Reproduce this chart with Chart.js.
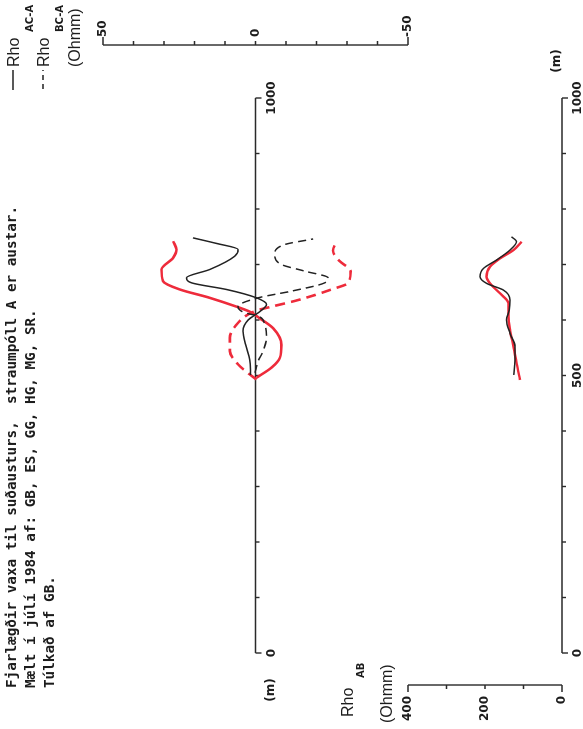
<!DOCTYPE html>
<html>
<head>
<meta charset="utf-8">
<script src="https://cdn.jsdelivr.net/npm/chart.js@4"></script>
<style>
html, body { margin: 0; padding: 0; background: #fff; overflow: hidden; }
/* the sheet is drawn upright and then turned a quarter turn, like the plot */
#sheet { position: absolute; left: 0; top: 0; width: 729px; height: 583px;
         transform-origin: 0 0; transform: translateY(729px) rotate(-90deg); }
</style>
</head>
<body>
<div id="sheet"><canvas id="c" width="729" height="583"></canvas></div>
<script>
// distance along the profile (m) and apparent resistivity

// Rho AC-A (Ohmm), measured (black) and interpreted (red)
const acMeasDist = [501, 528, 555, 580, 600, 615, 628, 640, 655, 667, 676, 691, 715, 727, 738, 748];
const acMeasRho  = [1.6, 1.9, 3.2, 4.1, 2.4, -1.4, -3.6, -0.3, 9.5, 21.0, 22.6, 15.0, 6.8, 5.7, 12.8, 20.5];
const acModDist  = [496, 514, 532, 555, 585, 603, 615, 624, 640, 655, 670, 691, 712, 727, 742];
const acModRho   = [-0.3, -5.2, -8.0, -8.5, -5.8, -1.4, 1.9, 6.2, 15.0, 24.8, 30.3, 30.8, 27.0, 25.9, 27.0];

// Rho BC-A (Ohmm), measured (black dashed) and interpreted (red dashed)
const bcMeasDist = [505, 526, 544, 568, 592, 607, 613, 624, 640, 652, 667, 676, 688, 700, 718, 736, 746];
const bcMeasRho  = [0.2, -0.9, -2.5, -3.6, -3.0, -0.9, 3.5, 5.7, -0.9, -11.8, -22.7, -23.8, -16.2, -8.5, -6.3, -9.6, -18.9];
const bcModDist  = [493, 502, 520, 544, 568, 595, 610, 618, 624, 636, 655, 667, 688, 706, 725, 742];
const bcModRho   = [-0.3, 1.9, 5.7, 8.4, 8.4, 5.7, 2.4, -0.9, -5.2, -14.0, -24.9, -30.4, -31.2, -27.6, -25.4, -26.6];

// Rho AB (Ohmm), measured (black) and interpreted (red)
const abMeasDist = [501, 528, 552, 576, 600, 618, 636, 654, 666, 678, 693, 708, 726, 741, 750];
const abMeasRho  = [125, 122, 122, 135, 144, 137, 135, 152, 196, 213, 204, 170, 135, 118, 131];
const abModDist  = [492, 522, 552, 582, 606, 630, 648, 663, 678, 696, 711, 726, 741];
const abModRho   = [109, 118, 126, 135, 139, 139, 161, 183, 196, 187, 161, 126, 105];

// axis ticks and labels
const distTicks     = [0, 100, 200, 300, 400, 500, 600, 700, 800, 900, 1000];
const distLabelsUp  = [0, 1000];
const distLabelsLow = [0, 500, 1000];
const rhoUpTicks    = [50, 40, 30, 20, 10, 0, -10, -20, -30, -40, -50];
const rhoUpLabels   = [50, 0, -50];
const rhoLowTicks   = [0, 100, 200, 300, 400];
const rhoLowLabels  = [0, 200, 400];

const headerLines = [
    'Fjarlægðir vaxa til suðausturs,  straumpóll A er austar.',
    'Mælt í júlí 1984 af: GB, ES, GG, HG, MG, SR.',
    'Túlkað af GB.'
];

const BLACK = '#222222';
const RED = '#ee2b3b';
const INK = '#1c1c1c';

function pts(dist, rho) {
    return dist.map((m, i) => ({ x: m, y: rho[i] }));
}

function serie(label, dist, rho, axis, color, width, dash) {
    return {
        label: label,
        data: pts(dist, rho),
        yAxisID: axis,
        showLine: true,
        borderColor: color,
        borderWidth: width,
        borderDash: dash,
        pointRadius: 0,
        cubicInterpolationMode: 'monotone',
        fill: false
    };
}

// rulers, tick marks and all the lettering of the sheet
const rulers = {
    id: 'rulers',
    beforeDatasetsDraw(chart) {
        const ctx = chart.ctx;
        const x = chart.scales.x;
        const yUp = chart.scales.yUp;
        const yLow = chart.scales.yLow;
        ctx.save();
        ctx.strokeStyle = '#2a2a2a';
        ctx.fillStyle = INK;
        ctx.lineWidth = 1.4;

        // distance axes, one for each panel, at Rho = 0
        function distAxis(yScale, labels) {
            const y0 = yScale.getPixelForValue(0);
            ctx.beginPath();
            ctx.moveTo(x.getPixelForValue(0), y0);
            ctx.lineTo(x.getPixelForValue(1000), y0);
            distTicks.forEach(m => {
                const px = x.getPixelForValue(m);
                const len = (m === 0 || m === 1000) ? 6 : 4;
                ctx.moveTo(px, y0);
                ctx.lineTo(px, y0 + len);
            });
            ctx.stroke();
            ctx.font = 'bold 12px "DejaVu Sans"';
            ctx.textAlign = 'center';
            ctx.textBaseline = 'top';
            labels.forEach(m => ctx.fillText(String(m), x.getPixelForValue(m), y0 + 10));
        }
        distAxis(yUp, distLabelsUp);
        distAxis(yLow, distLabelsLow);

        ctx.font = 'bold 12px "DejaVu Sans"';
        ctx.textAlign = 'center';
        ctx.textBaseline = 'middle';
        ctx.fillText('(m)', 39, yUp.getPixelForValue(0) + 15);
        ctx.textBaseline = 'bottom';
        ctx.fillText('(m)', 668, yLow.getPixelForValue(0) + 1);

        // Rho AC-A / BC-A ruler on the far side
        const rx = 684;
        ctx.beginPath();
        ctx.moveTo(rx, yUp.getPixelForValue(50));
        ctx.lineTo(rx, yUp.getPixelForValue(-50));
        rhoUpTicks.forEach(v => {
            const py = yUp.getPixelForValue(v);
            const len = (v === 50 || v === -50) ? 8 : 4;
            ctx.moveTo(rx, py);
            ctx.lineTo(rx + len, py);
        });
        ctx.stroke();
        ctx.font = 'bold 12px "DejaVu Sans"';
        ctx.textAlign = 'left';
        ctx.textBaseline = 'middle';
        rhoUpLabels.forEach(v => ctx.fillText(String(v), rx + 8, yUp.getPixelForValue(v)));

        // Rho AB ruler
        const lx = 44;
        ctx.beginPath();
        ctx.moveTo(lx, yLow.getPixelForValue(0));
        ctx.lineTo(lx, yLow.getPixelForValue(400));
        rhoLowTicks.forEach(v => {
            const py = yLow.getPixelForValue(v);
            const len = (v === 0 || v === 400) ? 7 : 4;
            ctx.moveTo(lx, py);
            ctx.lineTo(lx - len, py);
        });
        ctx.stroke();
        ctx.textAlign = 'right';
        rhoLowLabels.forEach(v => ctx.fillText(String(v), lx - 11, yLow.getPixelForValue(v)));
        ctx.restore();
    },
    afterDraw(chart) {
        const ctx = chart.ctx;
        ctx.save();
        ctx.fillStyle = INK;

        // header
        ctx.font = 'bold 14.3px "DejaVu Sans Mono"';
        ctx.textAlign = 'left';
        ctx.textBaseline = 'alphabetic';
        headerLines.forEach((t, i) => ctx.fillText(t, 41, 16 + i * 19));

        // legend for the upper panel
        ctx.strokeStyle = BLACK;
        ctx.lineWidth = 1.5;
        ctx.beginPath();
        ctx.moveTo(639, 13);
        ctx.lineTo(659, 13);
        ctx.stroke();
        ctx.setLineDash([5, 4]);
        ctx.beginPath();
        ctx.moveTo(640, 43);
        ctx.lineTo(659, 43);
        ctx.stroke();
        ctx.setLineDash([]);

        ctx.font = '16px "Liberation Sans"';
        ctx.fillText('Rho', 662, 19);
        ctx.fillText('Rho', 662, 49);
        ctx.fillText('(Ohmm)', 662, 80);
        ctx.font = 'bold 10px "DejaVu Sans"';
        ctx.fillText('AC-A', 697, 33);
        ctx.fillText('BC-A', 697, 63);

        // label of the Rho AB ruler
        ctx.font = '16px "Liberation Sans"';
        ctx.fillText('Rho', 12, 353);
        ctx.fillText('(Ohmm)', 6, 392);
        ctx.font = 'bold 10px "DejaVu Sans"';
        ctx.fillText('AB', 51, 364);
        ctx.restore();
    }
};

new Chart(document.getElementById('c'), {
    type: 'scatter',
    data: {
        datasets: [
            serie('Rho AC-A mælt', acMeasDist, acMeasRho, 'yUp', BLACK, 1.5, []),
            serie('Rho BC-A mælt', bcMeasDist, bcMeasRho, 'yUp', BLACK, 1.5, [8, 5]),
            serie('Rho AC-A túlkað', acModDist, acModRho, 'yUp', RED, 2.6, []),
            serie('Rho BC-A túlkað', bcModDist, bcModRho, 'yUp', RED, 2.6, [10, 6]),
            serie('Rho AB mælt', abMeasDist, abMeasRho, 'yLow', BLACK, 1.5, []),
            serie('Rho AB túlkað', abModDist, abModRho, 'yLow', RED, 2.4, [])
        ]
    },
    options: {
        responsive: false,
        animation: false,
        layout: { padding: { left: 76, right: 98, top: 103, bottom: 21 } },
        plugins: {
            legend: { display: false },
            tooltip: { enabled: false },
            title: { display: false }
        },
        scales: {
            x: { type: 'linear', min: 0, max: 1000, display: false },
            y: { display: false },
            yUp: { type: 'linear', position: 'left', min: -100.5, max: 50, display: false },
            yLow: { type: 'linear', position: 'left', min: 0, max: 1192, display: false }
        }
    },
    plugins: [rulers]
});
</script>
</body>
</html>
